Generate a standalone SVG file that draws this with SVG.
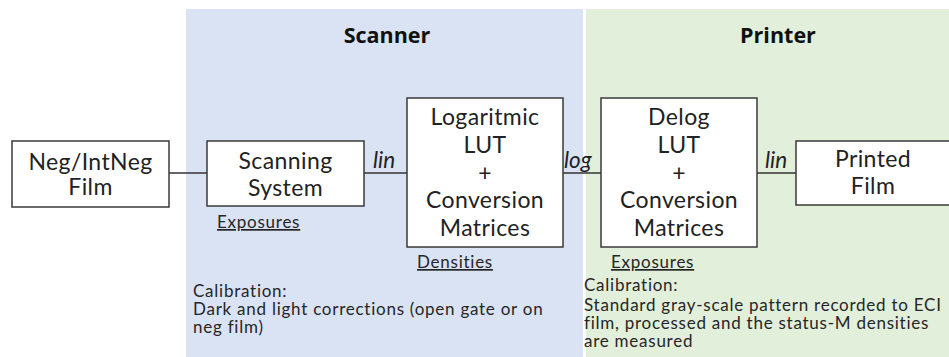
<svg xmlns="http://www.w3.org/2000/svg" width="949" height="357" viewBox="0 0 949 357">
<style>
.box{fill:#fff;stroke:#3a3a3a;stroke-width:1.5}
.t{font-family:Lato,"Noto Sans","Liberation Sans",sans-serif;font-size:23px;fill:#222;text-anchor:middle;letter-spacing:0.4px}
.i{font-family:Lato,"Noto Sans","Liberation Sans",sans-serif;font-size:22.5px;font-style:italic;fill:#222}
.s{font-family:Lato,"Noto Sans","Liberation Sans",sans-serif;font-size:17px;fill:#262626;letter-spacing:0.75px}
.u{text-decoration:underline}
.h{font-family:"Open Sans","Noto Sans","Liberation Sans",sans-serif;font-size:21.5px;font-weight:bold;fill:#111;text-anchor:middle}
.c{stroke:#333;stroke-width:1.5;fill:none}
</style>
<g id="panels">
<rect x="186" y="9" width="397" height="348" fill="#dae3f3"/>
<rect x="586" y="9" width="363" height="348" fill="#e2efda"/>
<text class="h" x="387" y="43">Scanner</text>
<text class="h" x="778" y="43">Printer</text>
</g>
<g id="connectors">
<line class="c" x1="169" y1="173" x2="207" y2="173"/>
<line class="c" x1="364" y1="173" x2="407" y2="173"/>
<line class="c" x1="563" y1="173" x2="601" y2="173"/>
<line class="c" x1="757" y1="173" x2="796" y2="173"/>
<text class="i" x="373" y="168">lin</text>
<text class="i" x="564" y="168">log</text>
<text class="i" x="765" y="168">lin</text>
</g>
<g id="neg-film">
<rect class="box" x="12" y="141" width="157" height="66"/>
<text class="t" x="90.5" y="170">Neg/IntNeg</text>
<text class="t" x="90.5" y="195">Film</text>
</g>
<g id="scanning-system">
<rect class="box" x="207" y="141" width="157" height="65"/>
<text class="t" x="285.5" y="169">Scanning</text>
<text class="t" x="285.5" y="196">System</text>
<text class="s u" x="217" y="228">Exposures</text>
</g>
<g id="log-lut">
<rect class="box" x="407" y="98" width="156" height="149"/>
<text class="t" x="485" y="125">Logaritmic</text>
<text class="t" x="485" y="153">LUT</text>
<text class="t" x="485" y="181">+</text>
<text class="t" x="485" y="208">Conversion</text>
<text class="t" x="485" y="236">Matrices</text>
<text class="s u" x="417" y="268">Densities</text>
</g>
<g id="delog-lut">
<rect class="box" x="601" y="98" width="156" height="149"/>
<text class="t" x="679" y="125">Delog</text>
<text class="t" x="679" y="153">LUT</text>
<text class="t" x="679" y="181">+</text>
<text class="t" x="679" y="208">Conversion</text>
<text class="t" x="679" y="236">Matrices</text>
<text class="s u" x="611" y="268">Exposures</text>
</g>
<g id="printed-film">
<rect class="box" x="796" y="141" width="156" height="64"/>
<text class="t" x="873" y="167">Printed</text>
<text class="t" x="873" y="194">Film</text>
</g>
<g id="scanner-calibration">
<text class="s" x="193" y="297">Calibration:</text>
<text class="s" x="193" y="315">Dark and light corrections (open gate or on</text>
<text class="s" x="193" y="333">neg film)</text>
</g>
<g id="printer-calibration">
<text class="s" x="584" y="291">Calibration:</text>
<text class="s" x="584" y="311">Standard gray-scale pattern recorded to ECI</text>
<text class="s" x="584" y="329">film, processed and the status-M densities</text>
<text class="s" x="584" y="347">are measured</text>
</g>
</svg>
